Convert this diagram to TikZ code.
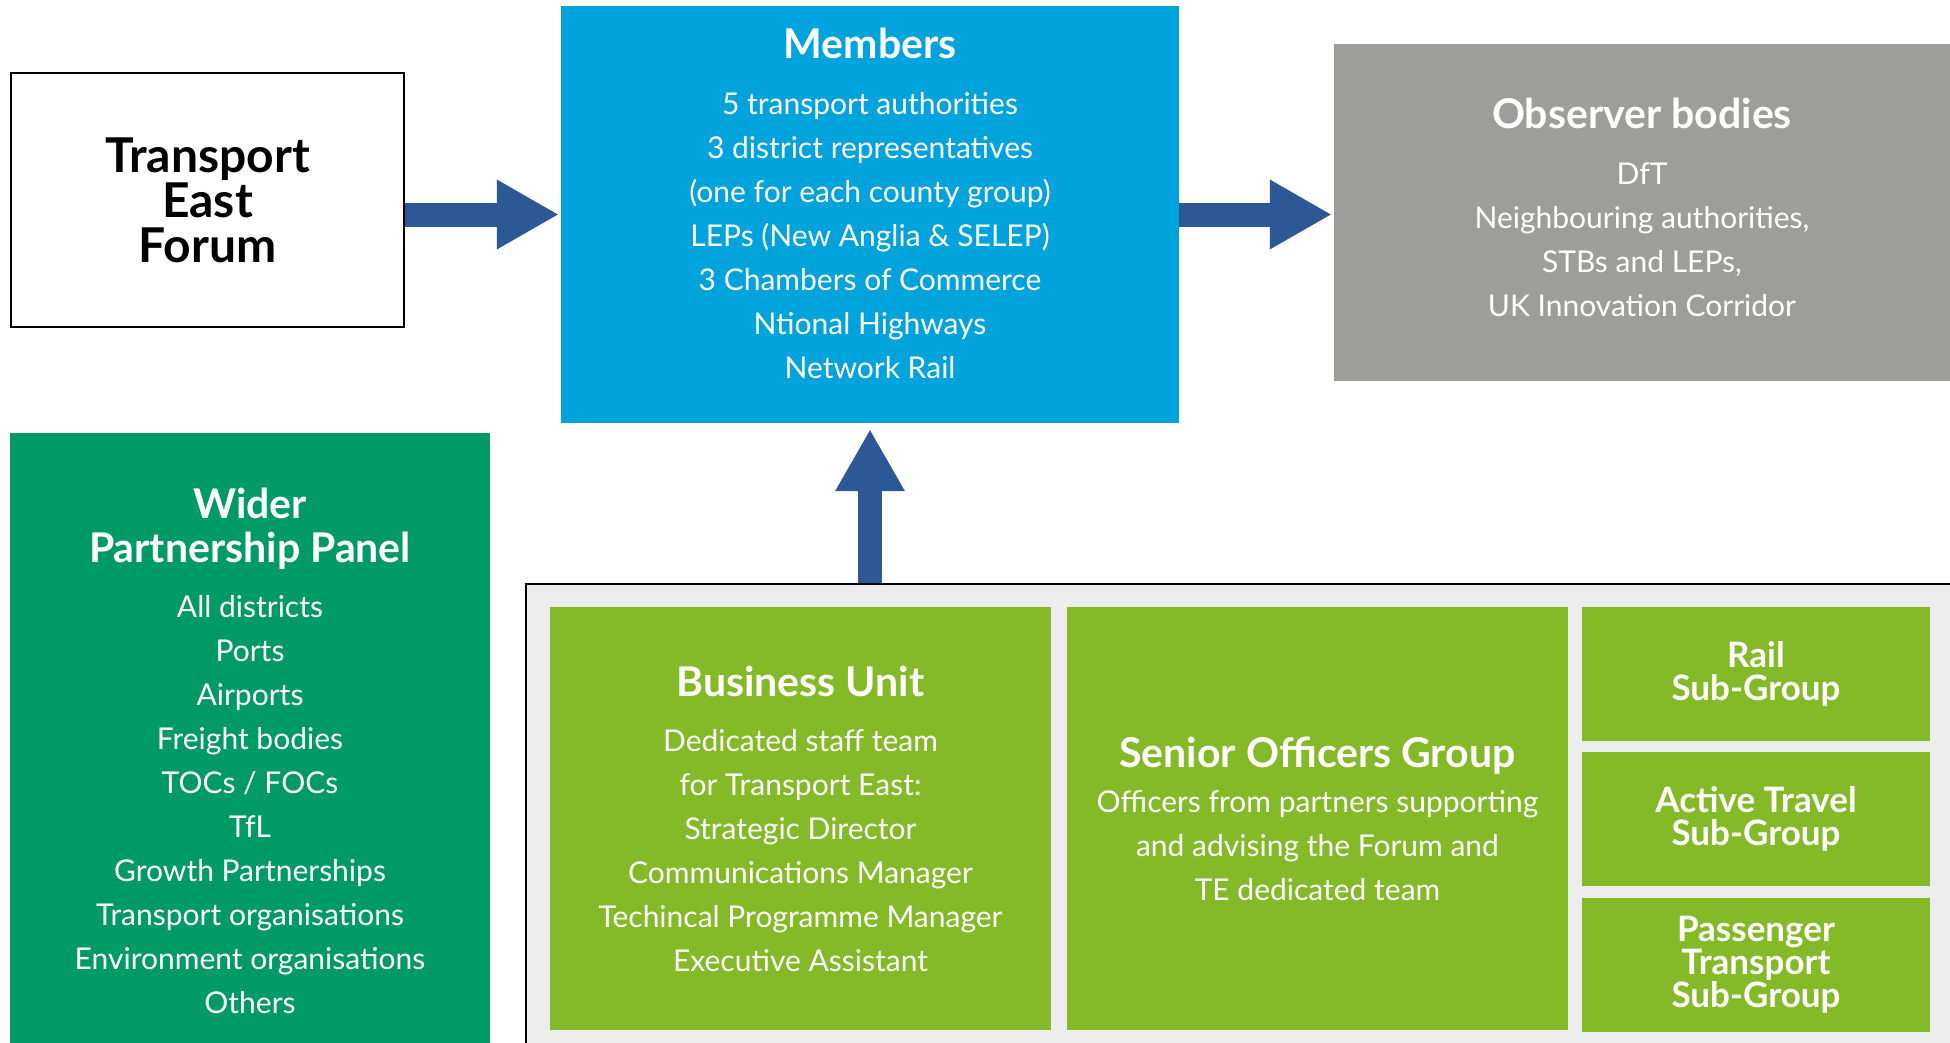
\documentclass[tikz,border=0pt]{standalone}
\usepackage{fontspec}
\setmainfont{Lato}
\usetikzlibrary{positioning,arrows.meta}

\definecolor{memberblue}{RGB}{0,163,219}
\definecolor{observergrey}{RGB}{157,157,156}
\definecolor{panelgreen}{RGB}{0,154,103}
\definecolor{unitgreen}{RGB}{132,186,40}
\definecolor{arrowblue}{RGB}{45,88,150}
\definecolor{framegrey}{RGB}{237,237,237}

\newcommand{\boxtitle}[1]{{\bfseries\fontsize{41}{44}\selectfont #1}}

\tikzset{
  panel/.style={inner sep=0pt, align=center, text=white,
    font=\fontsize{30}{44}\selectfont},
  subgroup/.style={panel, fill=unitgreen, minimum width=348pt, minimum height=134pt,
    font=\bfseries\fontsize{35}{33}\selectfont},
  bigarrow/.style={draw=arrowblue, line width=24pt,
    -{Triangle[length=61pt,width=70pt,line width=0pt]}}
}

\begin{document}
\begin{tikzpicture}[x=1pt,y=-1pt]
  \useasboundingbox (0,0) rectangle (1950,1043);

  % top row
  \node[draw=black, line width=2.5pt, inner sep=0pt, align=center,
    minimum width=393pt, minimum height=254pt,
    font=\bfseries\fontsize{48}{45}\selectfont] (forum) at (207.5,200)
    {Transport\\East\\Forum};
  \node[panel, fill=memberblue, minimum width=618pt, minimum height=417pt] (members) at (870,214.5)
    {\boxtitle{Members}\\[12pt]
     5 transport authorities\\
     3 district representatives\\
     (one for each county group)\\
     LEPs (New Anglia \& SELEP)\\
     3 Chambers of Commerce\\
     Ntional Highways\\
     Network Rail\\[-22pt]\mbox{}};
  \node[panel, fill=observergrey, minimum width=616pt, minimum height=337pt] (observers) at (1642,212.5)
    {\boxtitle{Observer bodies}\\[12pt]
     DfT\\
     Neighbouring authorities,\\
     STBs and LEPs,\\
     UK Innovation Corridor\\[-34pt]\mbox{}};

  % wider panel, runs off the page
  \node[panel, fill=panelgreen, minimum width=480pt, minimum height=635pt] (wider) at (250,750.5)
    {\boxtitle{Wider}\\\boxtitle{Partnership Panel}\\[11pt]
     All districts\\
     Ports\\
     Airports\\
     Freight bodies\\
     TOCs / FOCs\\
     TfL\\
     Growth Partnerships\\
     Transport organisations\\
     Environment organisations\\
     Others};

  % officer level
  \node[draw=black, line width=2pt, fill=framegrey, inner sep=0pt,
    minimum width=1439pt, minimum height=476pt] (frame) at (1245.5,822) {};
  \node[panel, fill=unitgreen, minimum width=501pt, minimum height=423pt] (unit) at (800.5,818.5)
    {\boxtitle{Business Unit}\\[11pt]
     Dedicated staff team\\
     for Transport East:\\
     Strategic Director\\
     Communications Manager\\
     Techincal Programme Manager\\
     Executive Assistant};
  \node[panel, fill=unitgreen, minimum width=501pt, minimum height=423pt] (officers) at (1317.5,818.5)
    {\boxtitle{Senior Officers Group}\\[1pt]
     Officers from partners supporting\\
     and advising the Forum and\\
     TE dedicated team};
  \node[subgroup] (rail) at (1756,674) {Rail\\Sub-Group};
  \node[subgroup, below=11pt of rail] (active) {Active Travel\\Sub-Group};
  \node[subgroup, below=11pt of active] (passenger) {Passenger\\Transport\\Sub-Group};

  % arrows
  \draw[bigarrow, shorten >=3pt] (forum.east |- members.west) -- (members.west);
  \draw[bigarrow, shorten >=3pt] (members.east) -- (members.east -| observers.west);
  \draw[bigarrow, shorten >=7pt] (members.south |- frame.north) -- (members.south);
\end{tikzpicture}
\end{document}
